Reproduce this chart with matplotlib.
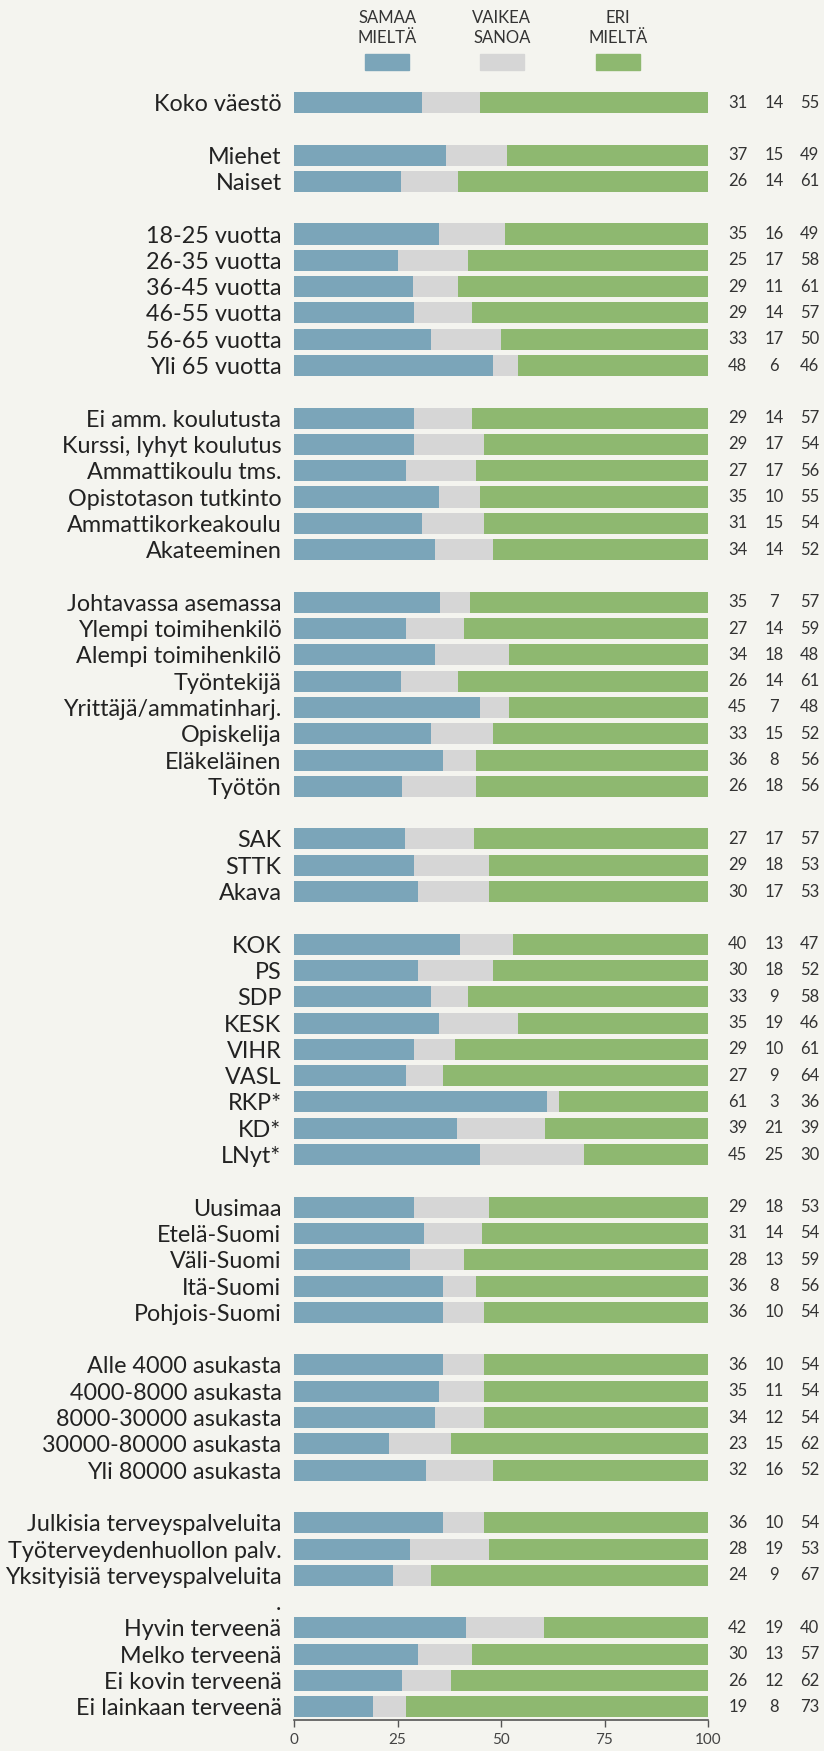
import matplotlib.pyplot as plt
import matplotlib.transforms as mtransforms
from matplotlib.patches import Rectangle
import numpy as np

# rows from top to bottom; "" / "." rows are spacers between groups
labels = [
    "Koko väestö", "",
    "Miehet", "Naiset", "",
    "18-25 vuotta", "26-35 vuotta", "36-45 vuotta", "46-55 vuotta", "56-65 vuotta", "Yli 65 vuotta", "",
    "Ei amm. koulutusta", "Kurssi, lyhyt koulutus", "Ammattikoulu tms.", "Opistotason tutkinto",
    "Ammattikorkeakoulu", "Akateeminen", "",
    "Johtavassa asemassa", "Ylempi toimihenkilö", "Alempi toimihenkilö", "Työntekijä",
    "Yrittäjä/ammatinharj.", "Opiskelija", "Eläkeläinen", "Työtön", "",
    "SAK", "STTK", "Akava", "",
    "KOK", "PS", "SDP", "KESK", "VIHR", "VASL", "RKP*", "KD*", "LNyt*", "",
    "Uusimaa", "Etelä-Suomi", "Väli-Suomi", "Itä-Suomi", "Pohjois-Suomi", "",
    "Alle 4000 asukasta", "4000-8000 asukasta", "8000-30000 asukasta", "30000-80000 asukasta",
    "Yli 80000 asukasta", "",
    "Julkisia terveyspalveluita", "Työterveydenhuollon palv.", "Yksityisiä terveyspalveluita", ".",
    "Hyvin terveenä", "Melko terveenä", "Ei kovin terveenä", "Ei lainkaan terveenä",
]

nan = np.nan
samaa = [31, nan, 37, 26, nan, 35, 25, 29, 29, 33, 48, nan,
         29, 29, 27, 35, 31, 34, nan,
         35, 27, 34, 26, 45, 33, 36, 26, nan,
         27, 29, 30, nan,
         40, 30, 33, 35, 29, 27, 61, 39, 45, nan,
         29, 31, 28, 36, 36, nan,
         36, 35, 34, 23, 32, nan,
         36, 28, 24, nan,
         42, 30, 26, 19]
vaikea = [14, nan, 15, 14, nan, 16, 17, 11, 14, 17, 6, nan,
          14, 17, 17, 10, 15, 14, nan,
          7, 14, 18, 14, 7, 15, 8, 18, nan,
          17, 18, 17, nan,
          13, 18, 9, 19, 10, 9, 3, 21, 25, nan,
          18, 14, 13, 8, 10, nan,
          10, 11, 12, 15, 16, nan,
          10, 19, 9, nan,
          19, 13, 12, 8]
eri = [55, nan, 49, 61, nan, 49, 58, 61, 57, 50, 46, nan,
       57, 54, 56, 55, 54, 52, nan,
       57, 59, 48, 61, 48, 52, 56, 56, nan,
       57, 53, 53, nan,
       47, 52, 58, 46, 61, 64, 36, 39, 30, nan,
       53, 54, 59, 56, 54, nan,
       54, 54, 54, 62, 52, nan,
       54, 53, 67, nan,
       40, 57, 62, 73]

series_names = ["SAMAA\nMIELTÄ", "VAIKEA\nSANOA", "ERI\nMIELTÄ"]
colors = ["#7ba5b9", "#d6d6d6", "#8eb870"]
bg = "#f4f4ef"

plt.rcParams['font.family'] = ['Lato', 'DejaVu Sans']

fig = plt.figure(figsize=(8.24, 17.51), dpi=100, facecolor=bg)
ax = fig.add_axes([294 / 824, 31 / 1751, 414 / 824, (1720 - 89.35) / 1751])
ax.set_facecolor(bg)

y = np.arange(len(labels))
s = np.array(samaa, dtype=float)
v = np.array(vaikea, dtype=float)
e = np.array(eri, dtype=float)
# rounded shares do not always add up to 100, bars are drawn as full rows
total = (s + v + e) / 100
s_w, v_w, e_w = s / total, v / total, e / total

ax.barh(y, s_w, height=0.8, color=colors[0])
ax.barh(y, v_w, left=s_w, height=0.8, color=colors[1])
ax.barh(y, e_w, left=s_w + v_w, height=0.8, color=colors[2])

ax.set_xlim(0, 100)
ax.set_ylim(len(labels) - 0.5, -0.5)

ax.set_yticks(y)
ax.set_yticklabels(labels, fontsize=16.8, color="#222222")
ax.tick_params(axis="y", length=0, pad=9)

ax.set_xticks([0, 25, 50, 75, 100])
ax.tick_params(axis="x", length=5, width=1, color="#555555", labelsize=11,
               labelcolor="#444444", pad=4)
for side in ["top", "left", "right"]:
    ax.spines[side].set_visible(False)
ax.spines["bottom"].set_color("#555555")
ax.spines["bottom"].set_linewidth(1.2)

# value columns on the right
col_x = [107.2, 116.0, 124.6]
for i in range(len(labels)):
    if np.isnan(s[i]):
        continue
    for cx, val in zip(col_x, (samaa[i], vaikea[i], eri[i])):
        ax.text(cx, i, f"{int(val)}", ha="center", va="center", fontsize=12,
                color="#333333", clip_on=False)

# legend at the top
trans = mtransforms.blended_transform_factory(ax.transData, fig.transFigure)
leg_x = [22.5, 50.2, 78.3]
for lx, name, c in zip(leg_x, series_names, colors):
    fig.text(lx, 1 - 28 / 1751, name, transform=trans, ha="center", va="center",
             fontsize=12, color="#333333", linespacing=1.25)
    fig.patches.append(Rectangle((lx - 5.3, 1 - 70 / 1751), 10.6, 16 / 1751,
                                 transform=trans, color=c, figure=fig))

fig.savefig("out.png", dpi=100, facecolor=bg)
